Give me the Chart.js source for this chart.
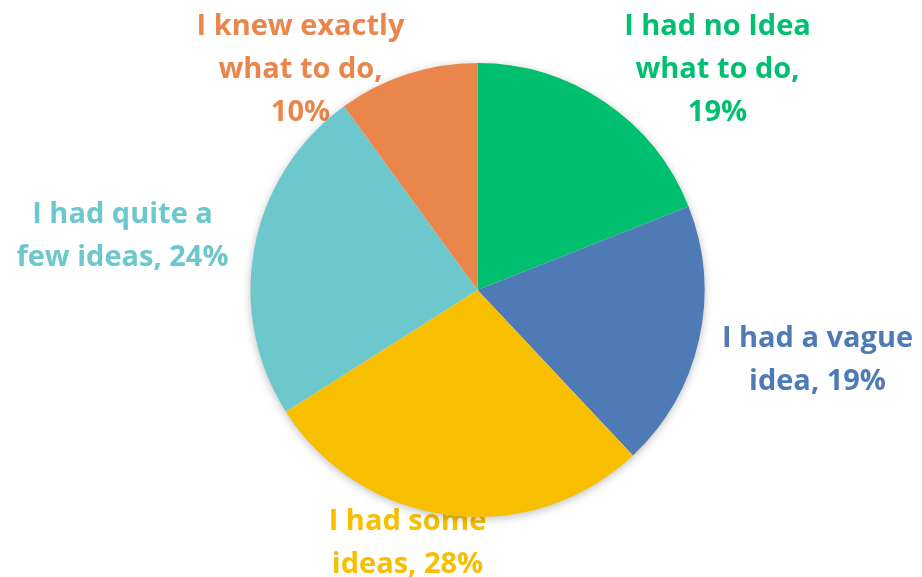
<!DOCTYPE html>
<html>
<head>
<meta charset="utf-8">
<script src="https://cdn.jsdelivr.net/npm/chart.js@4"></script>
<style>
  html, body { margin: 0; padding: 0; background: #fff; }
  #wrap { width: 922px; height: 577px; }
</style>
</head>
<body>
<div id="wrap"><canvas id="pie"></canvas></div>
<script>
// Survey answers, clockwise from 12 o'clock
const answers = [
  ['I had no Idea', 'what to do,'],
  ['I had a vague', 'idea,'],
  ['I had some', 'ideas,'],
  ['I had quite a', 'few ideas,'],
  ['I knew exactly', 'what to do,']
];
const shares = [19, 19, 28, 24, 10];
const sliceColors = ['#00bf6f', '#4e7bb5', '#f8be00', '#6cc8cc', '#ea864b'];

// Label text lines per slice (last word joins the percentage where it fits)
function labelLines(i) {
  const pct = shares[i] + '%';
  const [a, b] = answers[i];
  if (i === 0 || i === 4) return [a, b, pct];
  return [a, b + ' ' + pct];
}

// Label anchors, offset from the pie centre (x centre, first baseline)
const labelOffsets = [
  [240, -255],
  [340, 57],
  [-70, 240],
  [-355, -67],
  [-177, -255]
];
const lineGap = 43;

const outsideLabels = {
  id: 'outsideLabels',
  beforeDatasetsDraw(chart) {
    const { ctx } = chart;
    const arc = chart.getDatasetMeta(0).data[0];
    const cx = arc.x, cy = arc.y, r = arc.outerRadius;

    ctx.save();
    ctx.font = 'bold 29px "Open Sans", sans-serif';
    ctx.textAlign = 'center';
    ctx.textBaseline = 'alphabetic';
    shares.forEach((v, i) => {
      ctx.fillStyle = sliceColors[i];
      const [dx, dy] = labelOffsets[i];
      labelLines(i).forEach((line, k) => {
        ctx.fillText(line, cx + dx, cy + dy + k * lineGap);
      });
    });
    ctx.restore();

    // soft shadow under the whole disc
    ctx.save();
    ctx.shadowColor = 'rgba(0,0,0,0.28)';
    ctx.shadowBlur = 10;
    ctx.shadowOffsetY = 2;
    ctx.fillStyle = '#ffffff';
    ctx.beginPath();
    ctx.arc(cx, cy, r - 0.5, 0, Math.PI * 2);
    ctx.fill();
    ctx.restore();
  }
};

new Chart(document.getElementById('pie'), {
  type: 'pie',
  data: {
    labels: answers.map(a => a.join(' ')),
    datasets: [{
      data: shares,
      backgroundColor: sliceColors,
      borderWidth: 0
    }]
  },
  options: {
    responsive: true,
    maintainAspectRatio: false,
    animation: false,
    layout: {
      padding: { top: 63, bottom: 60, left: 150, right: 117 }
    },
    plugins: {
      legend: { display: false },
      tooltip: { enabled: false }
    }
  },
  plugins: [outsideLabels]
});
</script>
</body>
</html>
